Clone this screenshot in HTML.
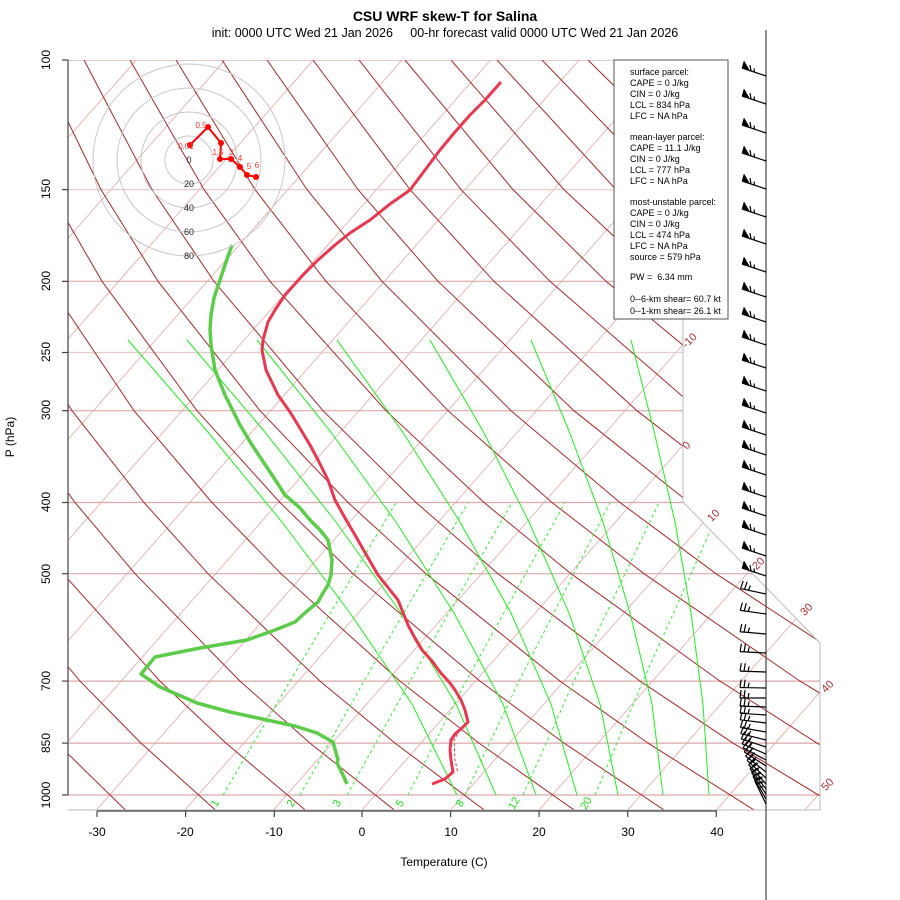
<!DOCTYPE html>
<html><head><meta charset="utf-8"><style>
body{margin:0;background:#fff;}
svg{display:block;font-family:"Liberation Sans",sans-serif;}
</style></head><body>
<svg width="900" height="900" viewBox="0 0 900 900" xmlns="http://www.w3.org/2000/svg" xmlns:xlink="http://www.w3.org/1999/xlink">
<defs>
<clipPath id="cp"><polygon points="68,60 683,60 683,502 820,643 820,810 68,810"/></clipPath>
<g id="ub"><line x1="766" y1="8" x2="742" y2="0"/><polygon points="742,0 744,-7 749,1.5" stroke-width="0.5"/><line x1="751" y1="3" x2="750" y2="-3"/><line x1="754.5" y1="4.2" x2="754" y2="0.5"/></g>
<g id="lb"><line x1="766" y1="0" x2="740" y2="0"/><line x1="740" y1="0" x2="741" y2="-8"/><line x1="744" y1="0" x2="745" y2="-8"/><line x1="748" y1="0" x2="749" y2="-5"/></g>
</defs>
<rect width="900" height="900" fill="#fff"/>
<g clip-path="url(#cp)" fill="none">
<g stroke="#e8b8b8" stroke-width="1">
<line x1="-523.7" y1="810" x2="136.3" y2="60"/>
<line x1="-435.1" y1="810" x2="224.9" y2="60"/>
<line x1="-346.6" y1="810" x2="313.4" y2="60"/>
<line x1="-258" y1="810" x2="402" y2="60"/>
<line x1="-169.4" y1="810" x2="490.6" y2="60"/>
<line x1="-80.9" y1="810" x2="579.1" y2="60"/>
<line x1="7.7" y1="810" x2="667.7" y2="60"/>
<line x1="96.3" y1="810" x2="756.3" y2="60"/>
<line x1="184.9" y1="810" x2="844.9" y2="60"/>
<line x1="273.4" y1="810" x2="933.4" y2="60"/>
<line x1="362" y1="810" x2="1022" y2="60"/>
<line x1="450.6" y1="810" x2="1110.6" y2="60"/>
<line x1="539.1" y1="810" x2="1199.1" y2="60"/>
<line x1="627.7" y1="810" x2="1287.7" y2="60"/>
<line x1="716.3" y1="810" x2="1376.3" y2="60"/>
<line x1="804.9" y1="810" x2="1464.9" y2="60"/>
</g>
<g stroke="#dba8a8" stroke-width="1.2">
<line x1="68" y1="60" x2="820" y2="60"/>
<line x1="68" y1="189.6" x2="820" y2="189.6" stroke="#e6cccc"/>
<line x1="68" y1="281.3" x2="820" y2="281.3"/>
<line x1="68" y1="352.5" x2="820" y2="352.5" stroke="#e6cccc"/>
<line x1="68" y1="410.7" x2="820" y2="410.7"/>
<line x1="68" y1="502.5" x2="820" y2="502.5"/>
<line x1="68" y1="573.7" x2="820" y2="573.7"/>
<line x1="68" y1="681.1" x2="820" y2="681.1"/>
<line x1="68" y1="743.1" x2="820" y2="743.1"/>
<line x1="68" y1="795" x2="820" y2="795"/>
</g>
<g stroke="#a52a2a" stroke-width="1">
<polyline points="36,810.6 -28,743.1 -80,681.1 -155,573.7 -197,502.5 -242,410.7 -289,281.3 -311,189.6 -328,60"/>
<polyline points="126,810.6 57,743.1 0,681.1 -82,573.7 -129,502.5 -180,410.7 -233,281.3 -260,189.6 -283,60"/>
<polyline points="216,810.6 141,743.1 80,681.1 -10,573.7 -61,502.5 -117,410.7 -177,281.3 -208,189.6 -237,60"/>
<polyline points="306,810.6 226,743.1 160,681.1 63,573.7 7,502.5 -54,410.7 -121,281.3 -157,189.6 -191,60"/>
<polyline points="395,810.6 310,743.1 240,681.1 135,573.7 75,502.5 9,410.7 -65,281.3 -105,189.6 -145,60"/>
<polyline points="485,810.6 395,743.1 320,681.1 208,573.7 144,502.5 72,410.7 -9,281.3 -54,189.6 -99,60"/>
<polyline points="575,810.6 479,743.1 400,681.1 281,573.7 212,502.5 134,410.7 47,281.3 -2,189.6 -53,60"/>
<polyline points="665,810.6 564,743.1 480,681.1 353,573.7 280,502.5 197,410.7 102,281.3 49,189.6 -8,60"/>
<polyline points="755,810.6 648,743.1 560,681.1 426,573.7 348,502.5 260,410.7 158,281.3 101,189.6 38,60"/>
<polyline points="844,810.6 733,743.1 640,681.1 498,573.7 416,502.5 323,410.7 214,281.3 152,189.6 84,60"/>
<polyline points="934,810.6 817,743.1 720,681.1 571,573.7 484,502.5 386,410.7 270,281.3 204,189.6 130,60"/>
<polyline points="1024,810.6 902,743.1 800,681.1 644,573.7 552,502.5 448,410.7 326,281.3 255,189.6 176,60"/>
<polyline points="1114,810.6 986,743.1 880,681.1 716,573.7 620,502.5 511,410.7 382,281.3 307,189.6 222,60"/>
<polyline points="1203,810.6 1071,743.1 960,681.1 789,573.7 689,502.5 574,410.7 438,281.3 358,189.6 267,60"/>
<polyline points="1040,681.1 861,573.7 756,502.5 637,410.7 494,281.3 410,189.6 313,60"/>
<polyline points="1120,681.1 934,573.7 825,502.5 699,410.7 550,281.3 461,189.6 359,60"/>
<polyline points="1007,573.7 893,502.5 762,410.7 606,281.3 513,189.6 405,60"/>
<polyline points="1079,573.7 961,502.5 825,410.7 662,281.3 564,189.6 451,60"/>
<polyline points="1029,502.5 888,410.7 718,281.3 616,189.6 497,60"/>
<polyline points="1097,502.5 951,410.7 774,281.3 667,189.6 542,60"/>
<polyline points="1165,502.5 1014,410.7 830,281.3 719,189.6 588,60"/>
<polyline points="1076,410.7 885,281.3 770,189.6 634,60"/>
<polyline points="1139,410.7 941,281.3 822,189.6 680,60"/>
<polyline points="997,281.3 873,189.6 726,60"/>
</g>
<g stroke="#22ee22" stroke-width="1">
<polyline points="128,340 207,431 282,522 350,613 412,704 457,795"/>
<polyline points="187,340 264,431 336,522 401,613 456,704 496,795"/>
<polyline points="257,340 330,431 396,522 454,613 503,704 536,795"/>
<polyline points="337,340 402,431 460,522 511,613 551,704 577,795"/>
<polyline points="430,340 483,431 529,522 569,613 600,704 618,795"/>
<polyline points="531,340 569,431 603,522 630,613 652,704 663,795"/>
<polyline points="631,340 654,431 675,522 691,613 703,704 709,795"/>
</g>
<g stroke="#33ee33" stroke-width="1" stroke-dasharray="3,3">
<polyline points="223,795 290,681.1 396,502.5"/>
<polyline points="300,795 364,681.1 468,502.5"/>
<polyline points="347,795 410,681.1 512,502.5"/>
<polyline points="408,795 466,681.1 565,502.5"/>
<polyline points="465,795 519,681.1 610,502.5"/>
<polyline points="523,795 574,681.1 659,502.5"/>
<polyline points="595,795 643,681.1 723,502.5"/>
</g>
</g>
<polyline points="683,60 683,502 820,643 820,810 68,810" fill="none" stroke="#bbb" stroke-width="1"/>
<g clip-path="url(#cp)">
<polyline fill="none" stroke="#e8384f" stroke-width="3" stroke-linejoin="round" points="501,82 485,100 470,115 455,132 440,150 425,170 410,190 390,204 370,220 350,233 335,245 318,260 303,275 285,295 275,310 268,322 263,340 262,350 266,370 278,395 290,412 298,425 310,445 318,460 328,480 335,500 345,518 355,535 367,556 378,575 390,590 398,600 404,615 408,625 416,640 422,650 432,661 440,672 450,683 455,690 461,700 465,710 468,722 462,728 455,734 451,740 450,750 451,760 453,772 445,779 432,784"/>
<polyline fill="none" stroke="#e8384f" stroke-width="1" stroke-dasharray="3,2" points="460,730 454,740 455,760 458,773"/>
<polyline fill="none" stroke="#5ccc4a" stroke-width="3.5" stroke-linejoin="round" points="232,245 226,262 220,280 214,298 211,315 210,330 211,345 215,370 225,395 240,425 252,445 262,460 274,478 285,495 300,508 310,520 320,530 328,540 332,560 331,575 328,585 323,593 318,602 306,612 295,622 275,630 247,640 200,648 155,657 141,674 160,687 197,703 230,712 267,720 295,726 317,733 333,742 338,760 337,763 342,773 347,784"/>
</g>
<g stroke="#444" stroke-width="1.2" fill="none">
<line x1="68" y1="60" x2="68" y2="795"/>
<line x1="97" y1="811" x2="717" y2="811"/>
<line x1="766" y1="30" x2="766" y2="900"/>
<line x1="62" y1="60" x2="68" y2="60"/><line x1="62" y1="189.6" x2="68" y2="189.6"/><line x1="62" y1="281.3" x2="68" y2="281.3"/><line x1="62" y1="352.5" x2="68" y2="352.5"/><line x1="62" y1="410.7" x2="68" y2="410.7"/><line x1="62" y1="502.5" x2="68" y2="502.5"/><line x1="62" y1="573.7" x2="68" y2="573.7"/><line x1="62" y1="681.1" x2="68" y2="681.1"/><line x1="62" y1="743.1" x2="68" y2="743.1"/><line x1="62" y1="795" x2="68" y2="795"/>
<line x1="97" y1="811" x2="97" y2="817"/><line x1="185.6" y1="811" x2="185.6" y2="817"/><line x1="274.3" y1="811" x2="274.3" y2="817"/><line x1="362" y1="811" x2="362" y2="817"/><line x1="450.6" y1="811" x2="450.6" y2="817"/><line x1="539.1" y1="811" x2="539.1" y2="817"/><line x1="627.7" y1="811" x2="627.7" y2="817"/><line x1="716.3" y1="811" x2="716.3" y2="817"/>
</g>
<g font-size="12" fill="#000" text-anchor="middle">
<text x="97" y="836">-30</text><text x="185" y="836">-20</text><text x="274" y="836">-10</text><text x="362" y="836">0</text><text x="451" y="836">10</text><text x="539" y="836">20</text><text x="628" y="836">30</text><text x="717" y="836">40</text>
<text x="444" y="866">Temperature (C)</text>
<text transform="translate(14,437) rotate(-90)">P (hPa)</text>
<text transform="translate(50,60) rotate(-90)">100</text>
<text transform="translate(50,189) rotate(-90)">150</text>
<text transform="translate(50,281) rotate(-90)">200</text>
<text transform="translate(50,352) rotate(-90)">250</text>
<text transform="translate(50,410) rotate(-90)">300</text>
<text transform="translate(50,502) rotate(-90)">400</text>
<text transform="translate(50,574) rotate(-90)">500</text>
<text transform="translate(50,681) rotate(-90)">700</text>
<text transform="translate(50,743) rotate(-90)">850</text>
<text transform="translate(50,795) rotate(-90)">1000</text>
<text x="445" y="21" font-size="14" font-weight="bold">CSU WRF skew-T for Salina</text>
<text x="445" y="37" font-size="12.5" xml:space="preserve">init: 0000 UTC Wed 21 Jan 2026     00-hr forecast valid 0000 UTC Wed 21 Jan 2026</text>
</g>
<g font-size="11" fill="#b03030" text-anchor="middle">
<text transform="translate(692,343) rotate(-45)">-10</text>
<text transform="translate(689,448) rotate(-45)">0</text>
<text transform="translate(716,518) rotate(-45)">10</text>
<text transform="translate(761,566) rotate(-45)">20</text>
<text transform="translate(809,612) rotate(-45)">30</text>
<text transform="translate(830,689) rotate(-45)">40</text>
<text transform="translate(830,787) rotate(-45)">50</text>
</g>
<g font-size="11" fill="#22dd22" text-anchor="middle">
<text transform="translate(218,805) rotate(-60)">1</text>
<text transform="translate(294,805) rotate(-60)">2</text>
<text transform="translate(340,805) rotate(-60)">3</text>
<text transform="translate(403,805) rotate(-60)">5</text>
<text transform="translate(463,805) rotate(-60)">8</text>
<text transform="translate(517,805) rotate(-60)">12</text>
<text transform="translate(589,805) rotate(-60)">20</text>
</g>
<g>
<g fill="none" stroke="#c8c8c8" stroke-width="1">
<circle cx="189" cy="160" r="24"/><circle cx="189" cy="160" r="48"/><circle cx="189" cy="160" r="72"/><circle cx="189" cy="160" r="96"/>
</g>
<g font-size="9" fill="#222" text-anchor="middle">
<text x="189" y="163">0</text><text x="189" y="187">20</text><text x="189" y="211">40</text><text x="189" y="235">60</text><text x="189" y="259">80</text>
</g>
<polyline fill="none" stroke="#f00" stroke-width="2" points="190,145 208,127 221,143 220,159 231,159 240,167 247,175 256,177"/>
<g fill="#f00"><circle cx="190" cy="145" r="3"/><circle cx="208" cy="127" r="3"/><circle cx="221" cy="143" r="3"/><circle cx="220" cy="159" r="3"/><circle cx="231" cy="159" r="3"/><circle cx="240" cy="167" r="3"/><circle cx="247" cy="175" r="3"/><circle cx="256" cy="177" r="3"/></g>
<g font-size="8" fill="#f33" text-anchor="middle">
<text x="186" y="149">0.01</text><text x="201" y="128">0.5</text><text x="218" y="155">1.5</text><text x="231" y="155">3</text><text x="240" y="161">4</text><text x="249" y="169">5</text><text x="257" y="168">6</text>
</g>
</g>
<rect x="614" y="60" width="114" height="259" fill="#fff" stroke="#555" stroke-width="1"/>
<g font-size="9" fill="#000">
<text x="630" y="75">surface parcel:</text>
<text x="630" y="86">CAPE = 0 J/kg</text>
<text x="630" y="97">CIN = 0 J/kg</text>
<text x="630" y="108">LCL = 834 hPa</text>
<text x="630" y="119">LFC = NA hPa</text>
<text x="630" y="140">mean-layer parcel:</text>
<text x="630" y="151">CAPE = 11.1 J/kg</text>
<text x="630" y="162">CIN = 0 J/kg</text>
<text x="630" y="173">LCL = 777 hPa</text>
<text x="630" y="184">LFC = NA hPa</text>
<text x="630" y="205">most-unstable parcel:</text>
<text x="630" y="216">CAPE = 0 J/kg</text>
<text x="630" y="227">CIN = 0 J/kg</text>
<text x="630" y="238">LCL = 474 hPa</text>
<text x="630" y="249">LFC = NA hPa</text>
<text x="630" y="260">source = 579 hPa</text>
<text x="630" y="280" xml:space="preserve">PW =  6.34 mm</text>
<text x="630" y="302">0--6-km shear= 60.7 kt</text>
<text x="630" y="314">0--1-km shear= 26.1 kt</text>
</g>
<g stroke="#000" stroke-width="1.2" fill="#000">
<use xlink:href="#ub" href="#ub" y="68"/><use xlink:href="#ub" href="#ub" y="96"/><use xlink:href="#ub" href="#ub" y="125"/><use xlink:href="#ub" href="#ub" y="153"/><use xlink:href="#ub" href="#ub" y="181"/><use xlink:href="#ub" href="#ub" y="209"/><use xlink:href="#ub" href="#ub" y="236"/><use xlink:href="#ub" href="#ub" y="264"/><use xlink:href="#ub" href="#ub" y="289"/><use xlink:href="#ub" href="#ub" y="314"/><use xlink:href="#ub" href="#ub" y="337"/><use xlink:href="#ub" href="#ub" y="360"/><use xlink:href="#ub" href="#ub" y="383"/><use xlink:href="#ub" href="#ub" y="405"/><use xlink:href="#ub" href="#ub" y="427"/><use xlink:href="#ub" href="#ub" y="447"/><use xlink:href="#ub" href="#ub" y="467"/><use xlink:href="#ub" href="#ub" y="489"/><use xlink:href="#ub" href="#ub" y="508"/><use xlink:href="#ub" href="#ub" y="527"/><use xlink:href="#ub" href="#ub" y="548"/><use xlink:href="#ub" href="#ub" y="568"/>
<use xlink:href="#lb" href="#lb" transform="translate(0,594) rotate(12 766 0)"/>
<use xlink:href="#lb" href="#lb" transform="translate(0,614) rotate(8 766 0)"/>
<use xlink:href="#lb" href="#lb" transform="translate(0,634) rotate(5 766 0)"/>
<use xlink:href="#lb" href="#lb" transform="translate(0,653) rotate(3 766 0)"/>
<use xlink:href="#lb" href="#lb" transform="translate(0,672) rotate(2 766 0)"/>
<use xlink:href="#lb" href="#lb" transform="translate(0,688) rotate(1 766 0)"/>
<use xlink:href="#lb" href="#lb" transform="translate(0,698) rotate(0 766 0)"/>
<use xlink:href="#lb" href="#lb" transform="translate(0,707) rotate(2 766 0)"/>
<use xlink:href="#lb" href="#lb" transform="translate(0,715) rotate(4 766 0)"/>
<use xlink:href="#lb" href="#lb" transform="translate(0,723) rotate(7 766 0)"/>
<use xlink:href="#lb" href="#lb" transform="translate(0,732) rotate(10 766 0)"/>
<use xlink:href="#lb" href="#lb" transform="translate(0,740) rotate(14 766 0)"/>
<use xlink:href="#lb" href="#lb" transform="translate(0,747) rotate(18 766 0)"/>
<use xlink:href="#lb" href="#lb" transform="translate(0,754) rotate(23 766 0)"/>
<use xlink:href="#lb" href="#lb" transform="translate(0,760) rotate(28 766 0)"/>
<use xlink:href="#lb" href="#lb" transform="translate(0,766) rotate(33 766 0)"/>
<use xlink:href="#lb" href="#lb" transform="translate(0,772) rotate(38 766 0)"/>
<use xlink:href="#lb" href="#lb" transform="translate(0,778) rotate(43 766 0)"/>
<use xlink:href="#lb" href="#lb" transform="translate(0,784) rotate(48 766 0)"/>
<use xlink:href="#lb" href="#lb" transform="translate(0,789) rotate(52 766 0)"/>
<use xlink:href="#lb" href="#lb" transform="translate(0,794) rotate(56 766 0)"/>
<use xlink:href="#lb" href="#lb" transform="translate(0,799) rotate(60 766 0)"/>
<use xlink:href="#lb" href="#lb" transform="translate(0,804) rotate(64 766 0)"/>
</g>
</svg>
</body></html>
